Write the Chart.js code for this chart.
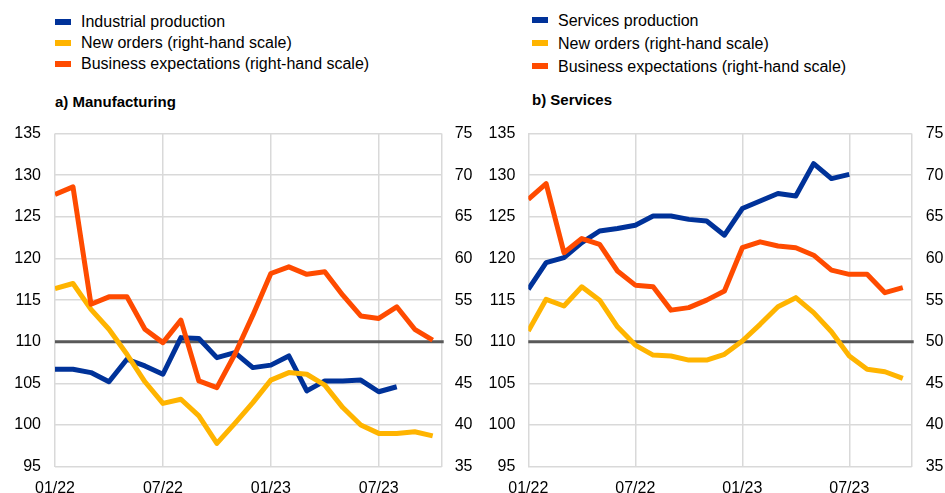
<!DOCTYPE html>
<html>
<head>
<meta charset="utf-8">
<script src="https://cdn.jsdelivr.net/npm/chart.js@4.4.1/dist/chart.umd.min.js"></script>
<style>
  body { margin: 0; width: 945px; height: 493px; background: #fff; position: relative; overflow: hidden;
         font-family: "Liberation Sans", Arial, sans-serif; color: #000; }
  .legend { position: absolute; font-size: 16px; }
  .legend div { position: relative; padding-left: 26px; white-space: nowrap; }
  .legend span { position: absolute; left: 0; top: 8px; width: 16px; height: 6px; }
  .title { position: absolute; font-weight: bold; font-size: 15px; }
  canvas { position: absolute; top: 110px; }
</style>
</head>
<body>
<div class="legend" style="left:55px;top:11px;line-height:21px">
  <div><span style="background:#003299"></span>Industrial production</div>
  <div><span style="background:#ffb400"></span>New orders (right-hand scale)</div>
  <div><span style="background:#ff4b00"></span>Business expectations (right-hand scale)</div>
</div>
<div class="legend" style="left:532px;top:9px;line-height:23px">
  <div><span style="background:#003299"></span>Services production</div>
  <div><span style="background:#ffb400"></span>New orders (right-hand scale)</div>
  <div><span style="background:#ff4b00"></span>Business expectations (right-hand scale)</div>
</div>
<div class="title" style="left:55px;top:93px">a) Manufacturing</div>
<div class="title" style="left:532px;top:91px">b) Services</div>
<canvas id="manuChart" width="475" height="383" style="left:0"></canvas>
<canvas id="servChart" width="470" height="383" style="left:475px"></canvas>
<script>
const months = ["01/22", "02/22", "03/22", "04/22", "05/22", "06/22", "07/22", "08/22", "09/22", "10/22", "11/22", "12/22",
  "01/23", "02/23", "03/23", "04/23", "05/23", "06/23", "07/23", "08/23", "09/23", "10/23"];
const labelledMonths = ["01/22", "07/22", "01/23", "07/23"];
const xAxisMax = 21.5;
const refLevel = 50;

// a) Manufacturing
const industrialProduction = [106.7, 106.7, 106.3, 105.2, 107.9, 107.1, 106.1, 110.5, 110.4, 108.1, 108.7, 106.9,
  107.2, 108.3, 104.1, 105.3, 105.3, 105.4, 104.0, 104.6];
const manuNewOrders = [56.4, 57.0, 53.9, 51.5, 48.5, 45.2, 42.6, 43.1, 41.1, 37.8, 40.2, 42.7,
  45.4, 46.3, 46.1, 44.8, 42.1, 40.0, 39.0, 39.0, 39.2, 38.7];
const manuExpectations = [67.7, 68.6, 54.5, 55.4, 55.4, 51.5, 49.9, 52.6, 45.3, 44.5, 48.5, 53.2,
  58.2, 59.0, 58.1, 58.4, 55.6, 53.1, 52.8, 54.2, 51.5, 50.2];

// b) Services
const servicesProduction = [116.3, 119.5, 120.1, 121.9, 123.3, 123.6, 124.0, 125.1, 125.1, 124.7, 124.5, 122.8,
  126.0, 126.9, 127.8, 127.5, 131.4, 129.6, 130.1];
const servNewOrders = [51.3, 55.1, 54.3, 56.6, 55.0, 51.8, 49.6, 48.4, 48.3, 47.8, 47.8, 48.5,
  50.1, 52.1, 54.2, 55.3, 53.5, 51.2, 48.3, 46.7, 46.4, 45.6];
const servExpectations = [67.1, 69.0, 60.7, 62.4, 61.7, 58.5, 56.8, 56.6, 53.8, 54.1, 55.0, 56.1,
  61.3, 62.0, 61.5, 61.3, 60.4, 58.6, 58.1, 58.1, 55.9, 56.5];

const GRID = "#d9d9d9";
const tickFont = { family: "'Liberation Sans', Arial, sans-serif", size: 16 };

const refLine = {
  id: "refLine",
  beforeDatasetsDraw(chart) {
    const { ctx, chartArea: a, scales } = chart;
    const y = scales.y2.getPixelForValue(refLevel);
    ctx.save();
    ctx.strokeStyle = "#595959";
    ctx.lineWidth = 3;
    ctx.beginPath();
    ctx.moveTo(a.left, y);
    ctx.lineTo(a.right + 2, y);
    ctx.stroke();
    ctx.restore();
  },
};

function series(values, color, axis, order) {
  return {
    data: values.map((v, i) => ({ x: i, y: v })),
    borderColor: color,
    backgroundColor: color,
    borderWidth: 5,
    borderJoinStyle: "round",
    pointRadius: 0,
    yAxisID: axis,
    order: order,
  };
}

function makeChart(id, prod, orders, expect, lay) {
  return new Chart(document.getElementById(id), {
    type: "line",
    data: {
      datasets: [
        series(expect, "#ff4b00", "y2", 0),
        series(orders, "#ffb400", "y2", 1),
        series(prod, "#003299", "y", 2),
      ],
    },
    options: {
      responsive: false,
      animation: false,
      devicePixelRatio: 1,
      layout: { padding: { top: lay.top, left: 0, right: 0, bottom: 0 } },
      plugins: { legend: { display: false }, tooltip: { enabled: false } },
      scales: {
        x: {
          type: "linear",
          min: 0,
          max: xAxisMax,
          afterBuildTicks: (s) => {
            const t = labelledMonths.map((m) => ({ value: months.indexOf(m) }));
            t.push({ value: xAxisMax });
            s.ticks = t;
          },
          afterFit: (s) => { s.height = lay.xHeight; },
          grid: { color: GRID, lineWidth: 1.5, drawTicks: false },
          border: { display: false },
          ticks: { color: "#000", font: tickFont, padding: 12, maxRotation: 0, autoSkip: false,
                   callback: (v) => months[v] || "" },
        },
        y: {
          position: "left",
          min: 95,
          max: 135,
          afterFit: (s) => { s.width = lay.yWidth; },
          grid: { color: GRID, lineWidth: 1.5, drawTicks: false },
          border: { display: false },
          ticks: { stepSize: 5, color: "#000", font: tickFont, padding: lay.yPad },
        },
        y2: {
          position: "right",
          min: 35,
          max: 75,
          afterFit: (s) => { s.width = lay.y2Width; },
          grid: { display: false, drawTicks: false },
          border: { display: false },
          ticks: { stepSize: 5, color: "#000", font: tickFont, padding: lay.y2Pad },
        },
      },
    },
    plugins: [refLine],
  });
}

makeChart("manuChart", industrialProduction, manuNewOrders, manuExpectations,
  { top: 11, xHeight: 26.3, yWidth: 55, yPad: 14, y2Width: 33.3, y2Pad: 13 });
makeChart("servChart", servicesProduction, servNewOrders, servExpectations,
  { top: 9, xHeight: 26.3, yWidth: 53.3, yPad: 13, y2Width: 33.3, y2Pad: 14 });
</script>
</body>
</html>
